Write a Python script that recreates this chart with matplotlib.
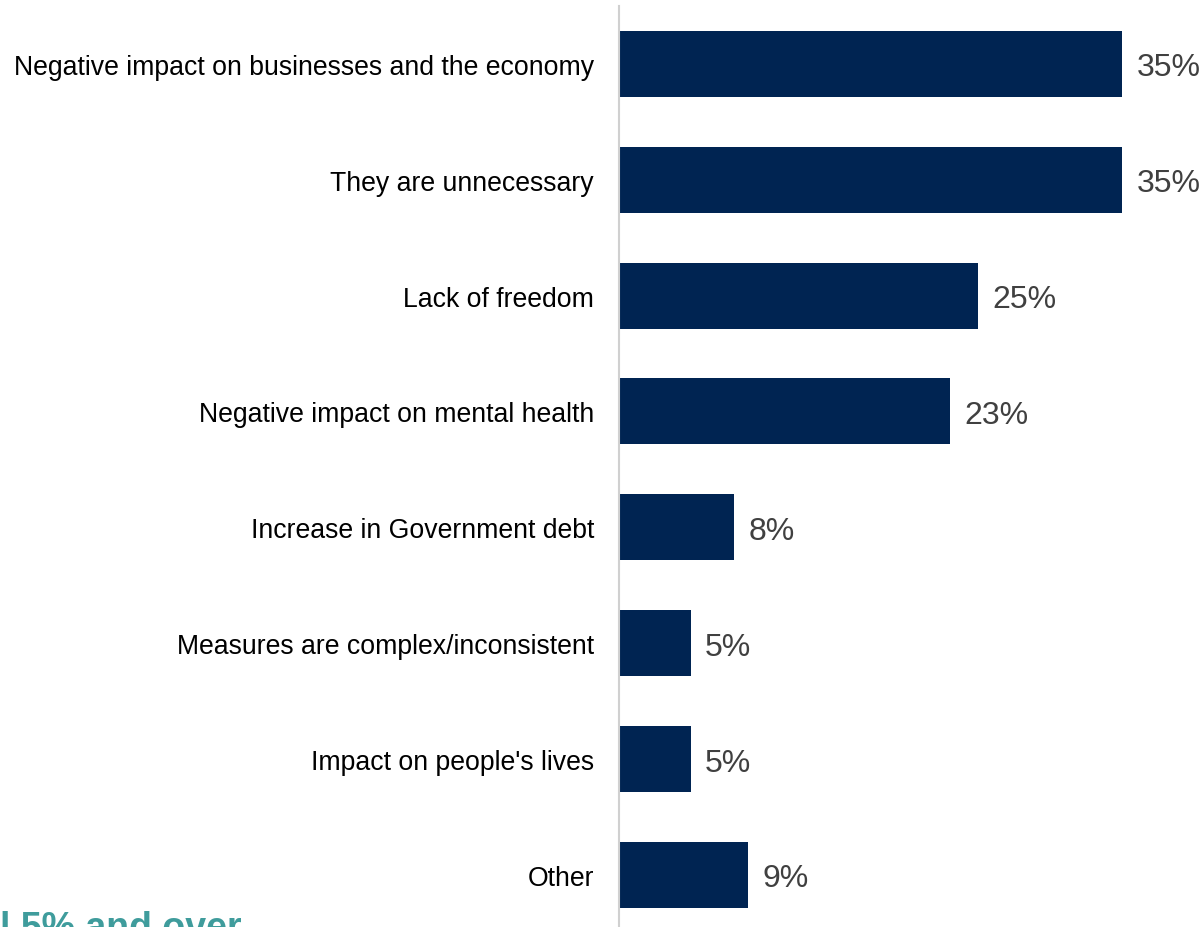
import matplotlib.pyplot as plt

plt.rcParams['font.family'] = ['Liberation Sans', 'DejaVu Sans']

categories = [
    "Negative impact on businesses and the economy",
    "They are unnecessary",
    "Lack of freedom",
    "Negative impact on mental health",
    "Increase in Government debt",
    "Measures are complex/inconsistent",
    "Impact on people's lives",
    "Other",
]
values = [35, 35, 25, 23, 8, 5, 5, 9]
value_labels = ["35%", "35%", "25%", "23%", "8%", "5%", "5%", "9%"]

BAR_COLOUR = "#002452"
TEAL = "#3f9c9c"

W, H = 1204, 928
fig = plt.figure(figsize=(W / 100, H / 100), dpi=100)
ax = fig.add_axes([619 / W, 0, (1194 - 619) / W, (928 - 7) / H])

ypos = list(range(len(categories)))
ax.barh(ypos, values, height=0.57, color=BAR_COLOUR)
ax.set_xlim(0, 40)
ax.set_ylim(7.45, -0.5)

for y, v, lab in zip(ypos, values, value_labels):
    ax.text(v + 1.0, y, lab, va="center_baseline", ha="left", fontsize=23,
            color="#404040")

ax.set_yticks(ypos)
ax.set_yticklabels(categories, fontsize=19.2, color="black")
ax.tick_params(axis="y", length=0, pad=18)
ax.set_xticks([])

for side in ("top", "right", "bottom"):
    ax.spines[side].set_visible(False)
ax.spines["left"].set_color("#d0d0d0")
ax.spines["left"].set_linewidth(1.5)

# heading of the next panel, mostly below the bottom edge
fig.text(0, -11 / H, "l 5% and over", fontsize=27, fontweight="bold",
         color=TEAL, ha="left", va="baseline")

fig.savefig("out.png", dpi=100)
